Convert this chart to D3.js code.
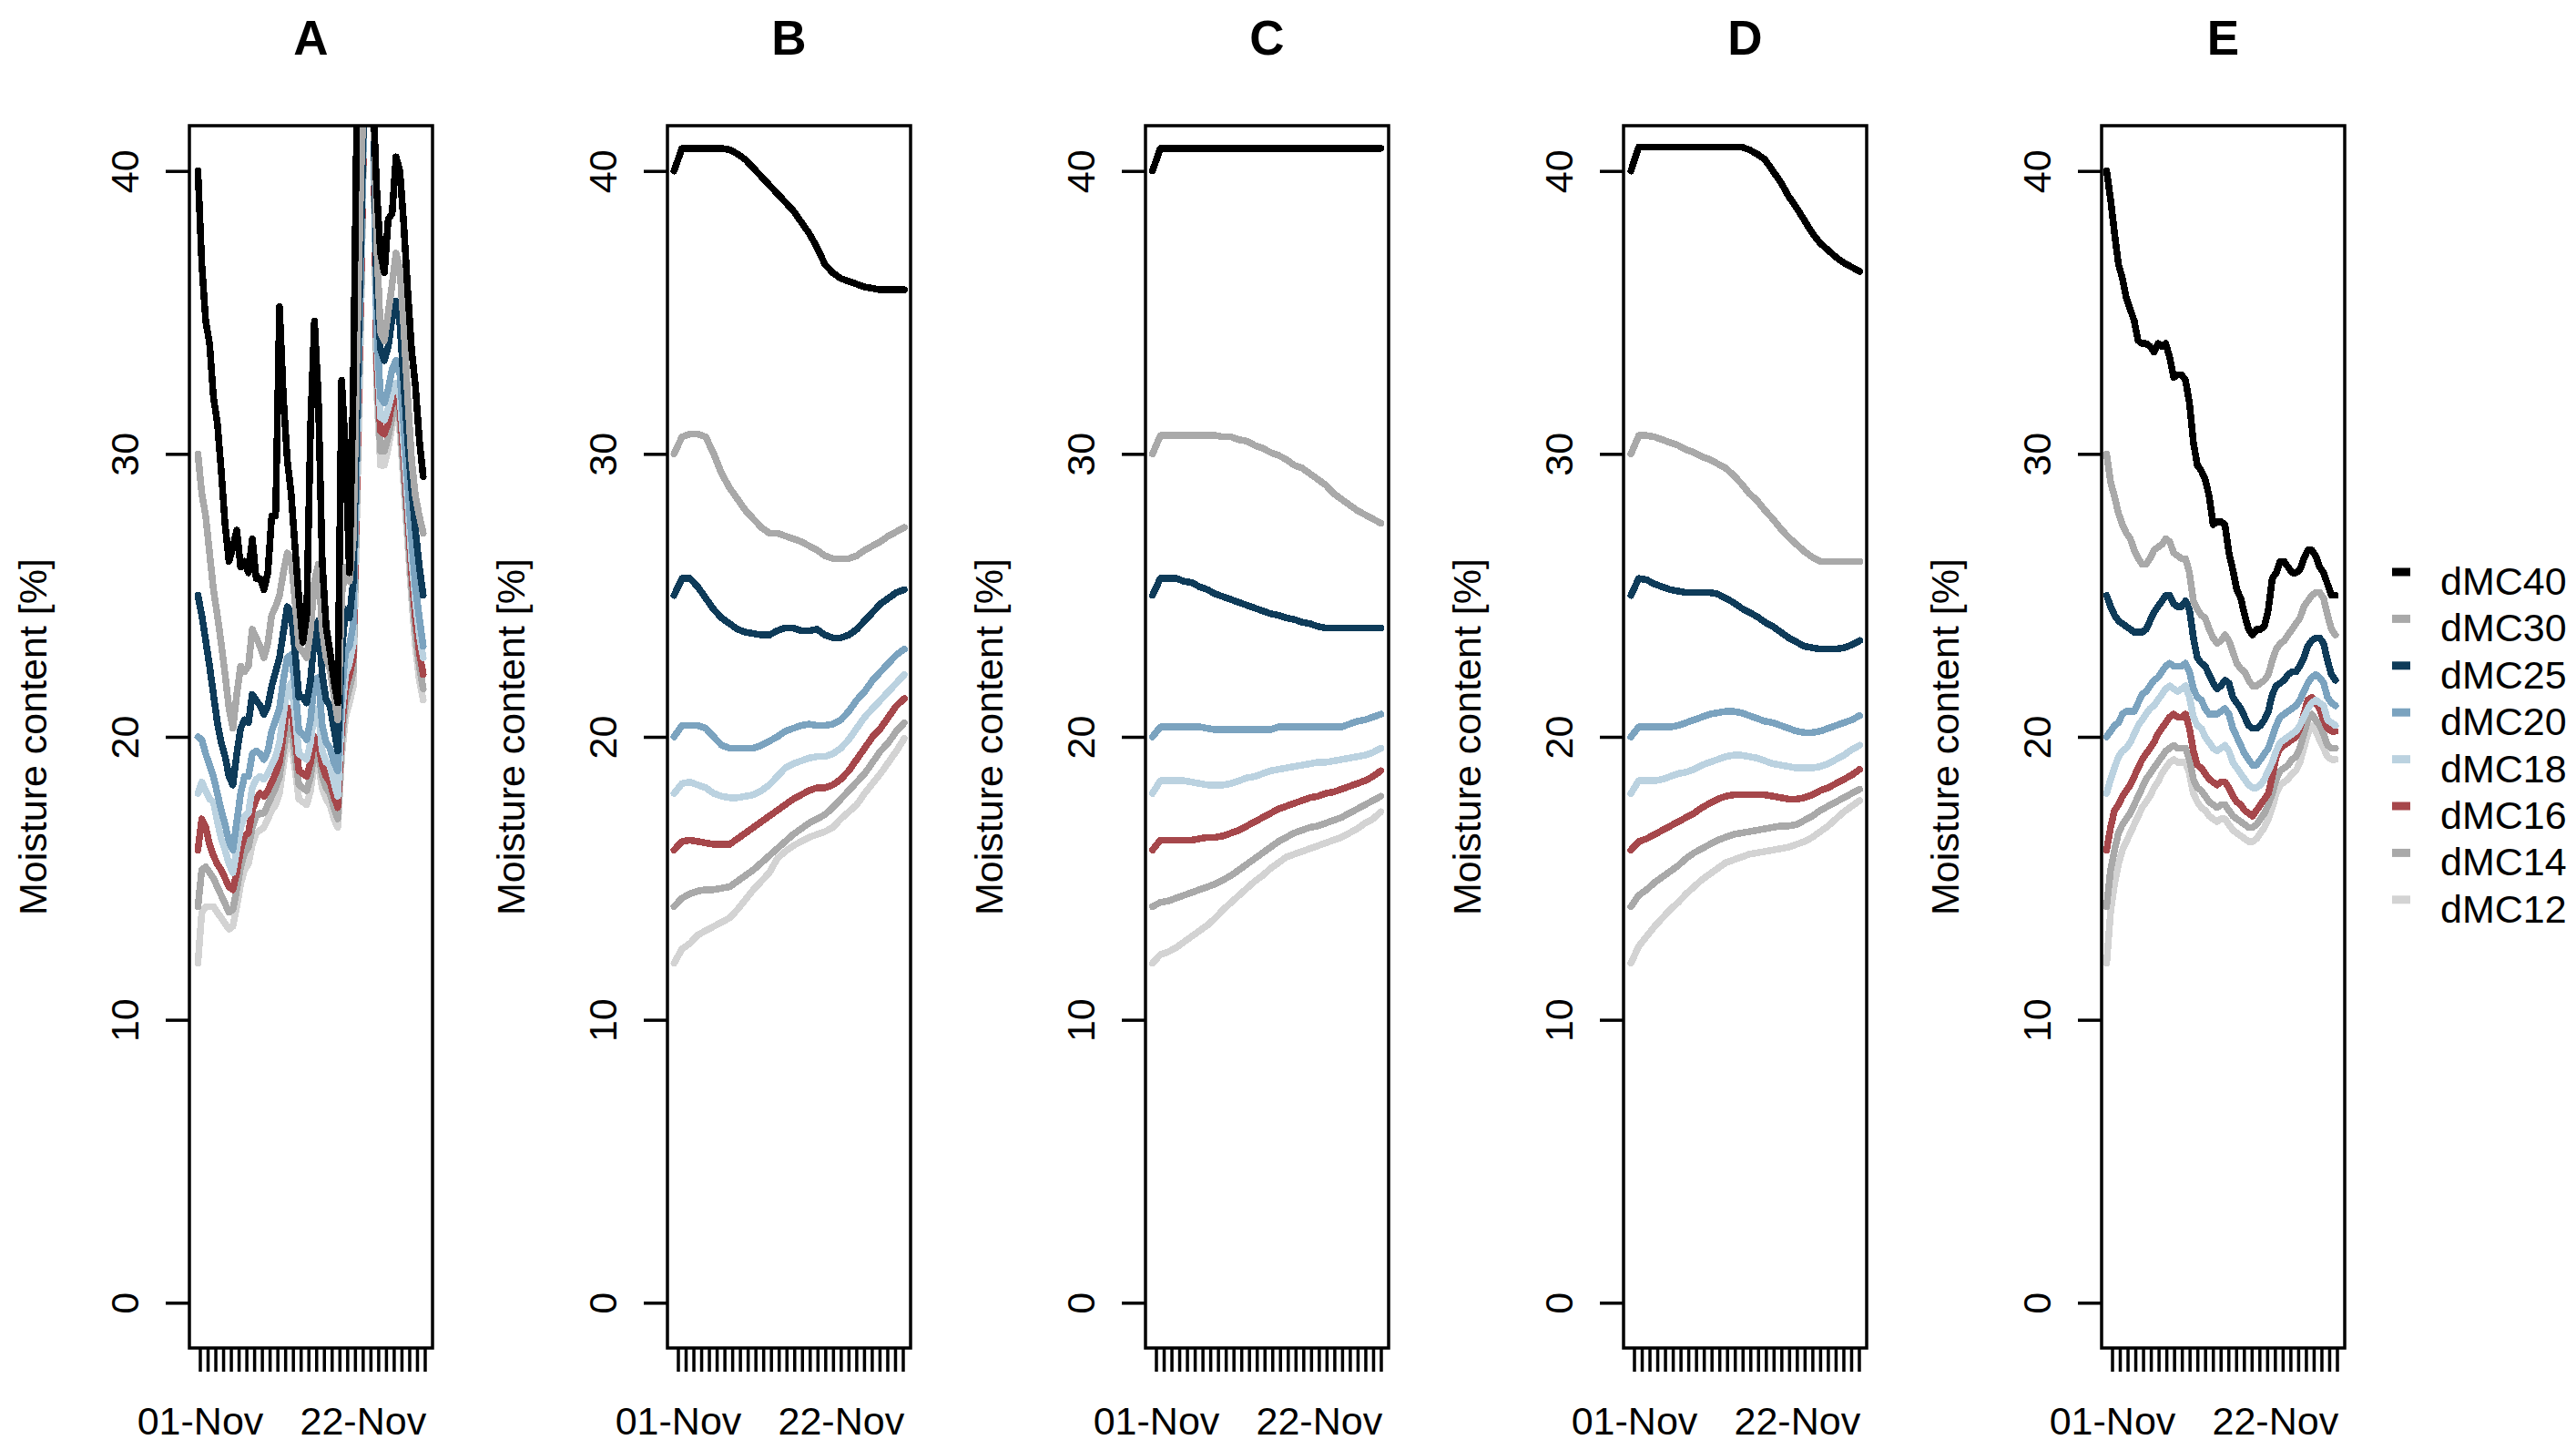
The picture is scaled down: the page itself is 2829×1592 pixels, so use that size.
<!DOCTYPE html>
<html>
<head>
<meta charset="utf-8">
<script src="https://cdn.jsdelivr.net/npm/d3@7"></script>
<style>
  body { margin: 0; background: #fff; }
  text { font-family: "Liberation Sans", Arial, sans-serif; }
</style>
</head>
<body>
<div id="chart"></div>
<script>
// panels, series and labels
var panels = ["A", "B", "C", "D", "E"];
var seriesNames = ["dMC40", "dMC30", "dMC25", "dMC20", "dMC18", "dMC16", "dMC14", "dMC12"];
var seriesColors = ["#000000", "#a9a9a9", "#0e3b59", "#7ba3bf", "#bbd2e0", "#a6474b", "#a9a9a9", "#d3d3d3"];
var yTicks = [0, 10, 20, 30, 40];
var dayLabels = ["01-Nov", "22-Nov"];
// first and last sample of each panel, in days after 01-Nov 00:00
var spans = [[-0.25, 28.8], [-0.5, 29.2], [-0.45, 29.0], [-0.4, 29.1], [-0.7, 28.8]];

// panel A, 12-hourly
var a40 = [40.0, 36.7, 34.7, 33.9, 32.0, 31.1, 29.4, 27.5, 26.2, 26.7, 27.3, 26.0, 26.2, 25.8, 27.0, 25.6, 25.6, 25.2, 25.8, 27.8,
           27.8, 35.2, 32.0, 29.8, 28.6, 26.7, 24.9, 23.35, 24.3, 31.0, 34.7, 32.0, 26.2, 23.9, 23.0, 22.0, 21.2, 32.6, 30.1, 25.8,
           32.4, 43, 45, 45, 44, 43, 39.4, 37.1, 36.4, 38.3, 38.5, 40.5, 40.0, 38.1, 35.8, 33.7, 32.4, 30.5, 29.2];
var a30 = [30.0, 28.6, 27.8, 26.5, 25.2, 24.3, 23.3, 22.2, 21.0, 20.3, 21.5, 22.5, 22.3, 22.5, 23.8, 23.5, 23.2, 22.8, 23.3, 24.3,
           24.6, 25.0, 25.8, 26.5, 26.3, 24.8, 23.2, 23.0, 22.8, 23.8, 25.5, 26.1, 23.8, 22.8, 22.4, 21.5, 20.6, 25.0, 26.0, 25.5,
           27.0, 34, 40, 44, 44, 44, 37.5, 34.3, 34.0, 35.0, 36.0, 37.1, 36.5, 34.5, 32.0, 29.8, 28.5, 27.8, 27.2];
var a25 = [25.0, 24.3, 23.4, 22.5, 21.5, 20.5, 19.8, 19.3, 18.6, 18.3, 19.4, 20.3, 20.6, 20.5, 21.5, 21.3, 21.1, 20.8, 21.1, 21.8,
           22.3, 22.8, 23.7, 24.6, 24.4, 23.0, 21.4, 21.4, 21.2, 22.0, 23.6, 24.1, 22.2, 21.3, 21.1, 20.3, 19.5, 23.0, 24.5, 24.2,
           25.5, 32, 38, 44, 44, 44, 36.0, 33.7, 33.3, 33.8, 34.8, 35.4, 34.6, 32.5, 30.5, 28.8, 27.3, 26.0, 25.0];
var a20 = [20.0, 19.9, 19.4, 19.0, 18.6, 18.0, 17.4, 16.9, 16.3, 16.0, 17.0, 18.0, 18.6, 18.6, 19.4, 19.5, 19.4, 19.2, 19.5, 20.2,
           20.6, 21.0, 22.0, 22.8, 22.9, 21.8, 20.2, 20.1, 19.9, 20.6, 22.0, 22.1, 20.4, 19.8, 19.6, 19.1, 18.8, 21.5, 23.0, 23.2,
           24.0, 30.5, 37, 44, 44, 44, 34.5, 32.0, 31.8, 32.3, 33.0, 33.3, 32.8, 31.0, 29.0, 27.0, 25.3, 24.2, 23.2];
var a18 = [18.0, 18.4, 18.1, 17.8, 17.7, 17.0, 16.4, 16.0, 15.5, 15.2, 16.0, 16.8, 17.2, 17.3, 18.2, 18.5, 18.6, 18.5, 18.7, 19.0,
           19.3, 19.8, 20.8, 21.7, 21.9, 20.8, 19.4, 19.3, 19.2, 19.8, 21.0, 20.9, 19.5, 19.1, 19.0, 18.4, 17.9, 20.8, 22.2, 22.6,
           23.3, 30, 36.5, 44, 44, 44, 34.0, 31.3, 31.2, 31.6, 32.2, 32.5, 32.0, 30.3, 28.3, 26.3, 24.8, 23.6, 22.8];
var a16 = [16.0, 17.1, 16.8, 16.2, 15.8, 15.5, 15.3, 15.0, 14.7, 14.6, 15.2, 16.0, 16.5, 16.6, 17.4, 17.8, 18.0, 17.9, 18.1, 18.4,
           18.7, 19.1, 20.1, 21.0, 21.0, 20.0, 18.8, 18.7, 18.6, 19.1, 20.0, 19.8, 19.0, 18.6, 18.4, 17.9, 17.5, 20.3, 21.7, 22.2,
           22.8, 29.5, 36, 44, 44, 44, 33.3, 30.8, 30.7, 31.1, 31.8, 32.2, 31.6, 29.8, 27.8, 25.8, 24.2, 23.0, 22.2];
var a14 = [14.0, 15.3, 15.4, 15.2, 15.0, 14.7, 14.4, 14.1, 13.8, 13.9, 14.6, 15.4, 15.9, 16.1, 16.8, 17.2, 17.3, 17.3, 17.6, 17.9,
           18.2, 18.6, 19.5, 20.3, 20.3, 19.4, 18.3, 18.2, 18.1, 18.6, 19.5, 19.4, 18.6, 18.2, 18.0, 17.5, 17.1, 19.8, 21.2, 21.7,
           22.3, 29, 35.5, 44, 44, 44, 32.8, 30.1, 30.1, 30.6, 31.3, 31.9, 31.2, 29.3, 27.3, 25.3, 23.7, 22.5, 21.7];
var a12 = [12.0, 13.8, 14.0, 14.0, 14.0, 13.8, 13.6, 13.4, 13.2, 13.3, 14.0, 14.8, 15.3, 15.5, 16.2, 16.6, 16.7, 16.8, 17.1, 17.4,
           17.6, 18.0, 19.0, 19.8, 19.8, 18.9, 17.8, 17.7, 17.6, 18.1, 19.1, 19.0, 18.2, 17.8, 17.6, 17.1, 16.8, 19.3, 20.7, 21.2,
           21.8, 28.5, 35, 44, 44, 44, 32.3, 29.6, 29.6, 30.2, 31.0, 31.6, 30.8, 28.9, 26.9, 24.9, 23.2, 22.0, 21.3];

// panel B, daily
var b40 = [40.0, 40.8, 40.8, 40.8, 40.8, 40.8, 40.8, 40.75, 40.6, 40.4, 40.1, 39.8, 39.5, 39.2, 38.9, 38.6, 38.2, 37.8, 37.3, 36.7,
           36.4, 36.2, 36.1, 36.0, 35.9, 35.85, 35.8, 35.8, 35.8, 35.8];
var b30 = [30.0, 30.6, 30.7, 30.7, 30.6, 30.0, 29.3, 28.8, 28.4, 28.0, 27.7, 27.4, 27.2, 27.2, 27.1, 27.0, 26.9, 26.75, 26.6, 26.4,
           26.3, 26.3, 26.3, 26.4, 26.6, 26.75, 26.9, 27.1, 27.25, 27.4];
var b25 = [25.0, 25.6, 25.6, 25.3, 24.9, 24.5, 24.2, 24.0, 23.8, 23.7, 23.65, 23.6, 23.6, 23.75, 23.85, 23.85, 23.75, 23.75, 23.8, 23.6,
           23.5, 23.5, 23.6, 23.8, 24.1, 24.4, 24.7, 24.9, 25.1, 25.2];
var b20 = [20.0, 20.4, 20.4, 20.4, 20.3, 20.0, 19.7, 19.6, 19.6, 19.6, 19.6, 19.7, 19.85, 20.0, 20.2, 20.3, 20.4, 20.45, 20.4, 20.4,
           20.45, 20.6, 20.9, 21.3, 21.6, 22.0, 22.3, 22.6, 22.9, 23.1];
var b18 = [18.0, 18.35, 18.4, 18.3, 18.2, 18.0, 17.9, 17.85, 17.85, 17.9, 17.95, 18.1, 18.3, 18.6, 18.9, 19.05, 19.15, 19.25, 19.3, 19.3,
           19.4, 19.6, 19.9, 20.3, 20.7, 21.0, 21.3, 21.6, 21.9, 22.2];
var b16 = [16.0, 16.3, 16.35, 16.3, 16.25, 16.2, 16.2, 16.2, 16.4, 16.6, 16.8, 17.0, 17.2, 17.4, 17.6, 17.8, 17.95, 18.1, 18.2, 18.2,
           18.3, 18.5, 18.8, 19.2, 19.6, 20.0, 20.3, 20.7, 21.1, 21.35];
var b14 = [14.0, 14.3, 14.45, 14.55, 14.6, 14.6, 14.65, 14.7, 14.9, 15.1, 15.3, 15.55, 15.8, 16.05, 16.3, 16.55, 16.75, 16.95, 17.1, 17.25,
           17.5, 17.8, 18.1, 18.4, 18.7, 19.1, 19.5, 19.8, 20.2, 20.5];
var b12 = [12.0, 12.5, 12.7, 13.0, 13.15, 13.3, 13.45, 13.6, 13.9, 14.25, 14.6, 14.9, 15.2, 15.7, 15.95, 16.15, 16.3, 16.45, 16.55, 16.65,
           16.8, 17.1, 17.35, 17.6, 18.0, 18.35, 18.7, 19.1, 19.5, 19.95];

// panel C, daily
var c40 = [40.0, 40.8, 40.8, 40.8, 40.8, 40.8, 40.8, 40.8, 40.8, 40.8, 40.8, 40.8, 40.8, 40.8, 40.8, 40.8, 40.8, 40.8, 40.8, 40.8,
           40.8, 40.8, 40.8, 40.8, 40.8, 40.8, 40.8, 40.8, 40.8, 40.8];
var c30 = [30.0, 30.65, 30.65, 30.65, 30.65, 30.65, 30.65, 30.65, 30.65, 30.6, 30.6, 30.5, 30.45, 30.3, 30.2, 30.05, 29.95, 29.8, 29.6, 29.5,
           29.3, 29.1, 28.9, 28.6, 28.4, 28.2, 28.0, 27.85, 27.7, 27.55];
var c25 = [25.0, 25.6, 25.6, 25.6, 25.5, 25.45, 25.3, 25.2, 25.05, 24.95, 24.85, 24.75, 24.65, 24.55, 24.45, 24.35, 24.3, 24.2, 24.15, 24.05,
           24.0, 23.9, 23.85, 23.85, 23.85, 23.85, 23.85, 23.85, 23.85, 23.85];
var c20 = [20.0, 20.35, 20.35, 20.35, 20.35, 20.35, 20.35, 20.3, 20.25, 20.25, 20.25, 20.25, 20.25, 20.25, 20.25, 20.25, 20.35, 20.35, 20.35, 20.35,
           20.35, 20.35, 20.35, 20.35, 20.35, 20.45, 20.55, 20.6, 20.7, 20.8];
var c18 = [18.0, 18.45, 18.45, 18.45, 18.45, 18.4, 18.35, 18.3, 18.3, 18.3, 18.35, 18.45, 18.55, 18.6, 18.7, 18.8, 18.85, 18.9, 18.95, 19.0,
           19.05, 19.1, 19.1, 19.15, 19.2, 19.25, 19.3, 19.35, 19.45, 19.6];
var c16 = [16.0, 16.35, 16.35, 16.35, 16.35, 16.35, 16.4, 16.45, 16.45, 16.5, 16.6, 16.7, 16.85, 17.0, 17.15, 17.3, 17.45, 17.55, 17.65, 17.75,
           17.85, 17.9, 18.0, 18.05, 18.15, 18.25, 18.35, 18.45, 18.6, 18.8];
var c14 = [14.0, 14.15, 14.2, 14.3, 14.4, 14.5, 14.6, 14.7, 14.8, 14.95, 15.1, 15.3, 15.5, 15.7, 15.9, 16.1, 16.3, 16.45, 16.6, 16.7,
           16.8, 16.85, 16.95, 17.05, 17.15, 17.3, 17.45, 17.6, 17.75, 17.9];
var c12 = [12.0, 12.3, 12.4, 12.55, 12.75, 12.95, 13.15, 13.35, 13.6, 13.9, 14.15, 14.4, 14.65, 14.9, 15.1, 15.35, 15.55, 15.75, 15.85, 15.95,
           16.05, 16.15, 16.25, 16.35, 16.45, 16.6, 16.75, 16.95, 17.1, 17.35];

// panel D, daily
var d40 = [40.0, 40.85, 40.85, 40.85, 40.85, 40.85, 40.85, 40.85, 40.85, 40.85, 40.85, 40.85, 40.85, 40.85, 40.85, 40.75, 40.6, 40.4, 40.0, 39.6,
           39.1, 38.7, 38.25, 37.8, 37.45, 37.2, 36.95, 36.75, 36.6, 36.45];
var d30 = [30.0, 30.65, 30.65, 30.6, 30.5, 30.4, 30.3, 30.15, 30.05, 29.9, 29.8, 29.65, 29.5, 29.25, 28.95, 28.6, 28.35, 28.0, 27.7, 27.35,
           27.05, 26.8, 26.55, 26.35, 26.2, 26.2, 26.2, 26.2, 26.2, 26.2];
var d25 = [25.0, 25.6, 25.55, 25.4, 25.3, 25.2, 25.15, 25.1, 25.1, 25.1, 25.1, 25.05, 24.9, 24.75, 24.55, 24.4, 24.25, 24.05, 23.9, 23.7,
           23.5, 23.35, 23.2, 23.15, 23.1, 23.1, 23.1, 23.15, 23.25, 23.4];
var d20 = [20.0, 20.35, 20.35, 20.35, 20.35, 20.35, 20.4, 20.5, 20.6, 20.7, 20.8, 20.85, 20.9, 20.9, 20.85, 20.75, 20.65, 20.55, 20.5, 20.4,
           20.3, 20.2, 20.15, 20.15, 20.2, 20.3, 20.4, 20.5, 20.6, 20.75];
var d18 = [18.0, 18.45, 18.45, 18.45, 18.5, 18.6, 18.7, 18.75, 18.85, 19.0, 19.1, 19.2, 19.3, 19.35, 19.35, 19.3, 19.25, 19.15, 19.05, 19.0,
           18.95, 18.9, 18.9, 18.9, 18.95, 19.05, 19.2, 19.35, 19.55, 19.7];
var d16 = [16.0, 16.3, 16.4, 16.55, 16.7, 16.85, 17.0, 17.15, 17.3, 17.5, 17.65, 17.8, 17.9, 17.95, 17.95, 17.95, 17.95, 17.95, 17.9, 17.85,
           17.8, 17.8, 17.85, 17.95, 18.1, 18.2, 18.35, 18.5, 18.65, 18.85];
var d14 = [14.0, 14.4, 14.6, 14.85, 15.05, 15.25, 15.45, 15.7, 15.9, 16.05, 16.2, 16.35, 16.45, 16.55, 16.6, 16.65, 16.7, 16.75, 16.8, 16.85,
           16.85, 16.9, 17.05, 17.2, 17.4, 17.55, 17.7, 17.85, 18.0, 18.15];
var d12 = [12.0, 12.6, 12.95, 13.3, 13.6, 13.9, 14.15, 14.45, 14.7, 14.95, 15.15, 15.35, 15.55, 15.65, 15.75, 15.85, 15.9, 15.95, 16.0, 16.05,
           16.1, 16.2, 16.3, 16.45, 16.65, 16.85, 17.1, 17.35, 17.55, 17.75];

// panel E, 12-hourly
var e40 = [40.0, 39.0, 37.8, 36.7, 36.2, 35.5, 35.1, 34.7, 34.0, 33.9, 33.9, 33.8, 33.6, 33.9, 33.8, 33.9, 33.4, 32.7, 32.8, 32.8,
           32.6, 31.8, 30.4, 29.6, 29.4, 29.1, 28.5, 27.5, 27.6, 27.6, 27.5, 26.5, 25.9, 25.2, 24.9, 24.3, 23.8, 23.6, 23.8, 23.8,
           23.9, 24.5, 25.6, 25.8, 26.2, 26.2, 26.0, 25.8, 25.8, 25.9, 26.3, 26.6, 26.6, 26.4, 26.0, 25.8, 25.4, 25.0, 25.0];
var e30 = [30.0, 29.0, 28.5, 27.9, 27.5, 27.2, 27.0, 26.6, 26.3, 26.1, 26.1, 26.3, 26.6, 26.7, 26.8, 27.0, 26.9, 26.5, 26.4, 26.3,
           26.3, 25.8, 24.8, 24.5, 24.3, 24.2, 23.8, 23.5, 23.3, 23.4, 23.6, 23.4, 23.0, 22.6, 22.4, 22.3, 22.0, 21.8, 21.8, 21.9,
           22.0, 22.2, 22.7, 23.1, 23.3, 23.4, 23.6, 23.8, 24.0, 24.2, 24.6, 24.8, 25.0, 25.1, 25.1, 24.9, 24.3, 23.8, 23.6];
var e25 = [25.0, 24.6, 24.3, 24.1, 24.0, 23.9, 23.8, 23.7, 23.7, 23.7, 23.8, 24.1, 24.4, 24.6, 24.8, 25.0, 25.0, 24.7, 24.6, 24.6,
           24.8, 24.5, 23.5, 22.8, 22.6, 22.5, 22.2, 21.9, 21.7, 21.8, 22.0, 21.9, 21.4, 21.2, 21.0, 20.7, 20.4, 20.3, 20.3, 20.4,
           20.6, 20.9, 21.5, 21.8, 21.9, 22.0, 22.2, 22.3, 22.3, 22.5, 22.8, 23.2, 23.4, 23.5, 23.5, 23.3, 22.7, 22.2, 22.0];
var e20 = [20.0, 20.2, 20.4, 20.5, 20.8, 20.9, 20.9, 20.9, 21.2, 21.5, 21.6, 21.8, 22.0, 22.1, 22.3, 22.5, 22.6, 22.5, 22.5, 22.5,
           22.6, 22.3, 21.7, 21.4, 21.3, 21.0, 20.8, 20.8, 20.8, 20.9, 21.0, 20.8, 20.3, 20.0, 19.7, 19.4, 19.2, 19.0, 19.0, 19.2,
           19.4, 19.6, 20.0, 20.4, 20.7, 20.8, 20.9, 21.0, 21.1, 21.3, 21.6, 21.9, 22.1, 22.2, 22.1, 21.9, 21.4, 21.2, 21.1];
var e18 = [18.0, 18.5, 18.9, 19.3, 19.5, 19.6, 19.8, 20.1, 20.4, 20.6, 20.8, 21.0, 21.1, 21.3, 21.5, 21.7, 21.8, 21.7, 21.6, 21.7,
           21.8, 21.4, 20.7, 20.4, 20.3, 20.0, 19.8, 19.6, 19.5, 19.6, 19.7, 19.5, 19.1, 18.9, 18.7, 18.5, 18.3, 18.2, 18.2, 18.3,
           18.5, 18.8, 19.1, 19.5, 19.8, 19.9, 20.0, 20.1, 20.2, 20.4, 20.7, 21.0, 21.2, 21.3, 21.2, 21.1, 20.6, 20.5, 20.4];
var e16 = [16.0, 16.8, 17.4, 17.6, 17.9, 18.1, 18.3, 18.6, 18.9, 19.2, 19.4, 19.6, 19.8, 20.1, 20.3, 20.5, 20.7, 20.8, 20.7, 20.7,
           20.8, 20.3, 19.5, 19.0, 18.9, 18.7, 18.5, 18.4, 18.3, 18.4, 18.4, 18.2, 17.9, 17.7, 17.6, 17.4, 17.3, 17.2, 17.4, 17.6,
           17.8, 18.0, 18.6, 19.3, 19.6, 19.7, 19.8, 19.9, 20.0, 20.3, 20.8, 21.3, 21.4, 21.2, 21.0, 20.6, 20.3, 20.2, 20.2];
var e14 = [14.0, 15.3, 16.0, 16.6, 16.9, 17.1, 17.3, 17.6, 17.9, 18.2, 18.5, 18.7, 18.9, 19.1, 19.3, 19.5, 19.6, 19.7, 19.6, 19.6,
           19.6, 19.2, 18.5, 18.2, 18.1, 17.9, 17.7, 17.6, 17.5, 17.6, 17.6, 17.4, 17.2, 17.1, 17.0, 16.9, 16.8, 16.8, 16.9, 17.1,
           17.3, 17.6, 18.0, 18.5, 18.8, 18.9, 19.0, 19.2, 19.3, 19.6, 20.1, 20.6, 20.8, 20.6, 20.4, 20.1, 19.7, 19.6, 19.6];
var e12 = [12.0, 13.8, 14.8, 15.5, 16.0, 16.3, 16.6, 16.9, 17.2, 17.5, 17.7, 17.9, 18.2, 18.4, 18.7, 18.9, 19.1, 19.2, 19.1, 19.1,
           19.1, 18.7, 18.0, 17.7, 17.5, 17.4, 17.2, 17.1, 17.0, 17.1, 17.1, 16.9, 16.7, 16.6, 16.5, 16.4, 16.3, 16.3, 16.4, 16.6,
           16.8, 17.1, 17.5, 18.0, 18.3, 18.4, 18.5, 18.7, 18.8, 19.1, 19.6, 20.1, 20.4, 20.2, 19.9, 19.6, 19.3, 19.2, 19.2];

var panelSeries = [
  [a40, a30, a25, a20, a18, a16, a14, a12],
  [b40, b30, b25, b20, b18, b16, b14, b12],
  [c40, c30, c25, c20, c18, c16, c14, c12],
  [d40, d30, d25, d20, d18, d16, d14, d12],
  [e40, e30, e25, e20, e18, e16, e14, e12]
];

var W = 2829, H = 1592;
var boxLeft = [208, 733, 1258, 1783, 2308], boxW = 267, boxTop = 138, boxBottom = 1480;
var fontSize = 43;
var day0 = Date.UTC(2018, 10, 1);
function toDate(t) { return new Date(day0 + t * 864e5); }
var fmt = d3.utcFormat("%d-%b");

var svg = d3.select("#chart")
            .append("svg")
            .attr("width", W)
            .attr("height", H);

var y = d3.scaleLinear().domain([-1.6, 41.6]).range([boxBottom, boxTop]);

panels.forEach(function(name, p) {
  var left = boxLeft[p];
  var x = d3.scaleUtc().domain([toDate(-1.35), toDate(30)]).range([left, left + boxW]);
  var g = svg.append("g");

  g.append("clipPath").attr("id", "clip" + p)
    .append("rect")
    .attr("x", left).attr("y", boxTop)
    .attr("width", boxW).attr("height", boxBottom - boxTop);

  var plot = g.append("g").attr("clip-path", "url(#clip" + p + ")");
  var list = panelSeries[p];
  // lowest series first, dMC40 on top
  for (var k = list.length - 1; k >= 0; k--) {
    var vals = list[k];
    var s0 = spans[p][0], s1 = spans[p][1], n = vals.length;
    var line = d3.line()
      .x(function(d, i) { return x(toDate(s0 + i * (s1 - s0) / (n - 1))); })
      .y(function(d) { return y(d); });
    plot.append("path")
      .datum(vals)
      .attr("d", line)
      .attr("fill", "none")
      .attr("stroke", seriesColors[k])
      .attr("stroke-width", 7.5)
      .attr("stroke-linejoin", "round")
      .attr("stroke-linecap", "round")
      .attr("shape-rendering", "crispEdges");
  }

  g.append("rect")
    .attr("x", left).attr("y", boxTop)
    .attr("width", boxW).attr("height", boxBottom - boxTop)
    .attr("fill", "none").attr("stroke", "#000").attr("stroke-width", 3.5);

  // y axis
  var axisY = d3.axisLeft(y).tickValues(yTicks).tickSize(26).tickSizeOuter(0);
  var gy = g.append("g").attr("transform", "translate(" + left + ",0)").call(axisY);
  gy.select(".domain").remove();
  gy.selectAll("line").attr("stroke-width", 3.5);
  gy.selectAll("text")
    .attr("x", 0).attr("dy", 0)
    .attr("text-anchor", "middle")
    .attr("transform", "translate(-56,0) rotate(-90)")
    .attr("font-size", fontSize)
    .attr("font-family", "Liberation Sans, Arial, sans-serif")
    .attr("fill", "#000");

  // x axis
  var axisX = d3.axisBottom(x)
    .tickValues(d3.utcDay.range(toDate(0), toDate(30)))
    .tickSize(26).tickSizeOuter(0).tickPadding(38)
    .tickFormat(function(d) {
      var s = fmt(d);
      return dayLabels.indexOf(s) >= 0 ? s : "";
    });
  var gx = g.append("g").attr("transform", "translate(0," + boxBottom + ")").call(axisX);
  gx.select(".domain").remove();
  gx.selectAll("line").attr("stroke-width", 3.5);
  gx.selectAll("text")
    .attr("font-size", fontSize)
    .attr("font-family", "Liberation Sans, Arial, sans-serif")
    .attr("fill", "#000");

  // titles
  g.append("text")
    .attr("x", left + boxW / 2).attr("y", 60)
    .attr("text-anchor", "middle")
    .attr("font-size", 53).attr("font-weight", "bold")
    .text(name);

  g.append("text")
    .attr("transform", "translate(" + (left - 157) + "," + ((boxTop + boxBottom) / 2) + ") rotate(-90)")
    .attr("text-anchor", "middle")
    .attr("font-size", fontSize)
    .text("Moisture content [%]");
});

// legend
var legend = svg.append("g");
seriesNames.forEach(function(s, k) {
  var cy = 628 + k * 51.4;
  legend.append("line")
    .attr("x1", 2627).attr("x2", 2647)
    .attr("y1", cy).attr("y2", cy)
    .attr("stroke", seriesColors[k]).attr("stroke-width", 9);
  legend.append("text")
    .attr("x", 2680).attr("y", cy + 25)
    .attr("font-size", fontSize)
    .text(s);
});
</script>
</body>
</html>
